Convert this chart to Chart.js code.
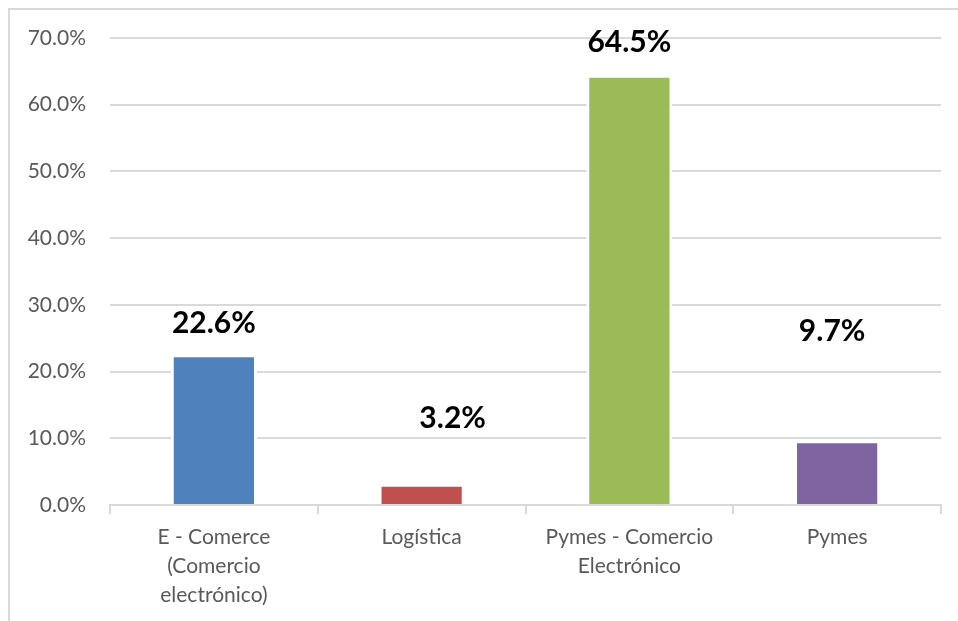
<!DOCTYPE html>
<html>
<head>
<meta charset="utf-8">
<script src="https://cdn.jsdelivr.net/npm/chart.js@4"></script>
<style>
  html, body { margin: 0; padding: 0; background: #fff; }
  #wrap { position: relative; width: 958px; height: 621px; }
  #frame { position: absolute; left: 8px; top: 8px; right: 0; bottom: 0;
           border-top: 2px solid #d9d9d9; border-left: 2px solid #d9d9d9; }
  canvas { position: absolute; left: 0; top: 0; }
</style>
</head>
<body>
<div id="wrap">
  <div id="frame"></div>
  <canvas id="chart" width="958" height="621"></canvas>
</div>
<script>
const categories = [
  ['E - Comerce', '(Comercio', 'electrónico)'],
  'Logística',
  ['Pymes - Comercio', 'Electrónico'],
  'Pymes',
];
const shares = [22.6, 3.2, 64.5, 9.7];
const barColors = ['#4f81bd', '#c0504d', '#9bbb59', '#8064a2'];
const yTicks = [0, 10, 20, 30, 40, 50, 60, 70];

// labels were moved by hand in the original, so each one gets its own nudge from the bar top
const labelLift = [31, 65, 32, 109];
const labelShift = [0, 31, 0, -5];

const valueLabels = {
  id: 'valueLabels',
  afterDatasetsDraw(chart) {
    const ctx = chart.ctx;
    const meta = chart.getDatasetMeta(0);
    ctx.save();
    ctx.font = 'bold 30px Lato';
    ctx.fillStyle = '#000';
    ctx.textAlign = 'center';
    ctx.textBaseline = 'middle';
    meta.data.forEach((bar, i) => {
      ctx.fillText(shares[i].toFixed(1) + '%', bar.x + labelShift[i], bar.y - labelLift[i]);
    });
    ctx.restore();
  },
};

new Chart(document.getElementById('chart'), {
  type: 'bar',
  data: {
    labels: categories,
    datasets: [{
      data: shares,
      backgroundColor: barColors,
      borderColor: '#fff',
      borderWidth: 3,
      borderSkipped: 'bottom',
      barPercentage: 0.415,
      categoryPercentage: 1,
    }],
  },
  options: {
    responsive: false,
    animation: false,
    devicePixelRatio: 1,
    layout: { padding: { top: 38, right: 17, left: 0, bottom: 0 } },
    plugins: { legend: { display: false }, tooltip: { enabled: false } },
    scales: {
      y: {
        min: 0,
        max: 70,
        afterBuildTicks: (s) => { s.ticks = yTicks.map((v) => ({ value: v })); },
        afterFit: (s) => { s.width = 110; },
        grid: { color: '#d9d9d9', lineWidth: 2, drawTicks: false },
        border: { display: false },
        ticks: {
          padding: 24,
          color: '#595959',
          font: { family: 'Lato', size: 21 },
          callback: (v) => v.toFixed(1) + '%',
        },
      },
      x: {
        afterFit: (s) => { s.height = 116; },
        grid: { drawOnChartArea: false, color: '#d9d9d9', lineWidth: 2, tickLength: 9, offset: true },
        border: { color: '#d9d9d9', width: 2 },
        ticks: {
          padding: 9,
          color: '#595959',
          maxRotation: 0,
          font: { family: 'Lato', size: 21, lineHeight: 1.38 },
        },
      },
    },
  },
  plugins: [valueLabels],
});
</script>
</body>
</html>
